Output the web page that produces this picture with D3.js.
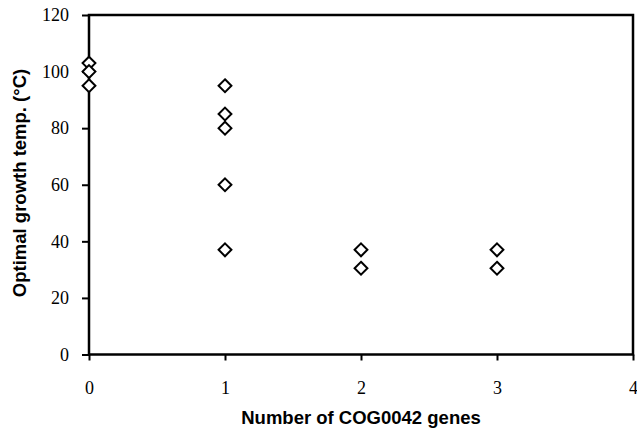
<!DOCTYPE html>
<meta charset="utf-8">
<script src="https://d3js.org/d3.v7.min.js"></script>
<style>
body { margin: 0; background: #fff; }
.axis text { font-family: "Liberation Serif", "Times New Roman", serif; font-size: 18px; fill: #000; }
.axis path { display: none; }
.axis line { stroke: #000; stroke-width: 2px; }
.title { font-family: "Liberation Sans", Arial, sans-serif; font-size: 18.5px; font-weight: bold; fill: #000; }
.frame { fill: none; stroke: #000; stroke-width: 2.5px; }
.pt { fill: #fff; stroke: #000; stroke-width: 2px; }
</style>
<body></body>
<script>
// number of genes and growth temperature
const genes = [0, 0, 0, 1, 1, 1, 1, 1, 2, 2, 3, 3];
const temps = [103, 100, 95, 95, 85, 80, 60, 37, 37, 30.5, 37, 30.5];
const xTicks = [0, 1, 2, 3, 4];
const yTicks = [0, 20, 40, 60, 80, 100, 120];

const width = 637, height = 431;
const margin = {top: 15, right: 4, bottom: 76.5, left: 89};
const innerWidth = width - margin.left - margin.right;
const innerHeight = height - margin.top - margin.bottom;

const SVG = d3.select("body").append("svg")
  .attr("width", width)
  .attr("height", height);

const svg = SVG.append("g")
  .attr("transform", "translate(" + margin.left + "," + margin.top + ")");

const x = d3.scaleLinear().domain([0, 4]).range([0, innerWidth]);
const y = d3.scaleLinear().domain([0, 120]).range([innerHeight, 0]);

svg.append("g")
  .attr("class", "x axis")
  .attr("transform", "translate(0," + innerHeight + ")")
  .call(d3.axisBottom(x).tickValues(xTicks).tickSize(6).tickPadding(21).tickFormat(d3.format("d")));

svg.append("g")
  .attr("class", "y axis")
  .call(d3.axisLeft(y).tickValues(yTicks).tickSize(7).tickPadding(13));

svg.append("rect")
  .attr("class", "frame")
  .attr("width", innerWidth)
  .attr("height", innerHeight);

const sym = d3.symbol().type(d3.symbolDiamond2).size(105);

svg.selectAll(".pt")
  .data(genes.map((g, i) => ({g: g, t: temps[i]})))
  .enter().append("path")
  .attr("class", "pt")
  .attr("d", sym)
  .attr("transform", d => "translate(" + x(d.g) + "," + y(d.t) + ")");

// axis titles
SVG.append("text")
  .attr("class", "title")
  .attr("x", margin.left + innerWidth / 2)
  .attr("y", 424)
  .attr("text-anchor", "middle")
  .text("Number of COG0042 genes");

SVG.append("text")
  .attr("class", "title")
  .attr("transform", "translate(26,183) rotate(-90)")
  .attr("text-anchor", "middle")
  .text("Optimal growth temp. (°C)");
</script>
